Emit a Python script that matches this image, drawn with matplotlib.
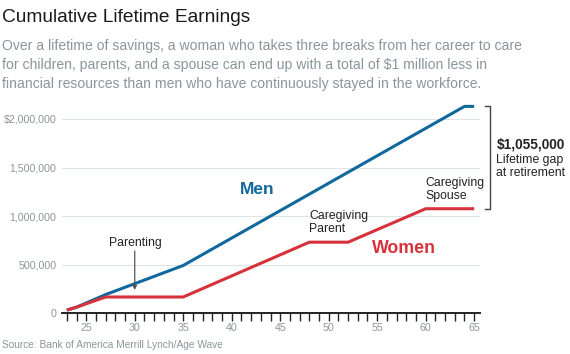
import matplotlib
matplotlib.use("Agg")
import matplotlib.pyplot as plt

# ---- data ----
men_ages = [23, 24, 27, 35, 64, 65]
men_values = [30000, 60000, 190000, 490000, 2130000, 2130000]
women_ages = [23, 24, 27, 35, 48, 52, 60, 65]
women_values = [30000, 60000, 165000, 165000, 730000, 730000, 1075000, 1075000]
y_ticks = [0, 500000, 1000000, 1500000, 2000000]
y_tick_labels = ["0", "500,000", "1,000,000", "1,500,000", "$2,000,000"]
x_label_ticks = [25, 30, 35, 40, 45, 50, 55, 60, 65]

BLUE = "#10689d"
RED = "#d7323c"
GRAY = "#8b969b"
DARK = "#222222"

plt.rcParams['font.family'] = ['Liberation Sans', 'DejaVu Sans']

fig = plt.figure(figsize=(5.7, 3.54), dpi=100)
ax = fig.add_axes([62/570, 1 - 313/354, (480-62)/570, (313-99.6)/354])

ax.plot(men_ages, men_values, color=BLUE, lw=2.2, solid_capstyle='butt', zorder=3)
ax.plot(women_ages, women_values, color=RED, lw=2.2, solid_capstyle='butt', zorder=4)

ax.set_xlim(22.5, 65.6)
ax.set_ylim(0, 2200000)

ax.set_yticks(y_ticks)
ax.set_yticklabels(y_tick_labels)
ax.set_xticks(list(range(23, 66)))
ax.set_xticklabels([str(a) if a in x_label_ticks else "" for a in range(23, 66)])

ax.tick_params(axis='y', length=0, pad=4, labelsize=7.7, labelcolor=GRAY)
ax.tick_params(axis='x', length=5.5, width=1, color=DARK, direction='out', pad=2,
               labelsize=7.7, labelcolor=GRAY)

for v in y_ticks[1:]:
    ax.axhline(v, color="#dfe5e2", lw=0.8, zorder=1)

for s in ['top', 'right', 'left']:
    ax.spines[s].set_visible(False)
ax.spines['bottom'].set_color(DARK)
ax.spines['bottom'].set_linewidth(1.4)

# labels
ax.text(42.6, 1270000, "Men", color=BLUE, fontsize=12.5, fontweight='bold',
        ha='center', va='center')
ax.text(57.8, 670000, "Women", color=RED, fontsize=12.8, fontweight='bold',
        ha='center', va='center')
ax.text(48.0, 930000, "Caregiving\nParent", color=DARK, fontsize=8.8,
        ha='left', va='center', linespacing=1.1)
ax.text(60.0, 1270000, "Caregiving\nSpouse", color=DARK, fontsize=8.8,
        ha='left', va='center', linespacing=1.1)
ax.text(30.1, 725000, "Parenting", color=DARK, fontsize=8.8, ha='center', va='center')
ax.annotate("", xy=(30.0, 237000), xytext=(30.0, 640000),
            arrowprops=dict(arrowstyle='-|>', color="#555555", lw=0.9,
                            mutation_scale=6, shrinkA=0, shrinkB=0))

# bracket
top = men_values[-1]
bot = women_values[-1]
ax.plot([66.15, 66.65, 66.65, 66.15], [top, top, bot, bot], color="#444444",
        lw=1.0, clip_on=False)
ax.text(67.3, 1735000, "$1,055,000", color=DARK, fontsize=9.8, fontweight='bold',
        ha='left', va='center')
ax.text(67.3, 1635000, "Lifetime gap\nat retirement", color=DARK, fontsize=8.8,
        ha='left', va='top', linespacing=1.05)

# titles
fig.text(2/570, 1 - 18/354, "Cumulative Lifetime Earnings", fontsize=13.8,
         color="#1a1a1a", ha='left', va='center')
fig.text(2/570, 1 - 39/354,
         "Over a lifetime of savings, a woman who takes three breaks from her career to care\n"
         "for children, parents, and a spouse can end up with a total of $1 million less in\n"
         "financial resources than men who have continuously stayed in the workforce.",
         fontsize=10.05, color=GRAY, ha='left', va='top', linespacing=1.45)
fig.text(2/570, 1 - 345/354, "Source: Bank of America Merrill Lynch/Age Wave",
         fontsize=7.3, color=GRAY, ha='left', va='center')

fig.savefig("out.png", dpi=100)
